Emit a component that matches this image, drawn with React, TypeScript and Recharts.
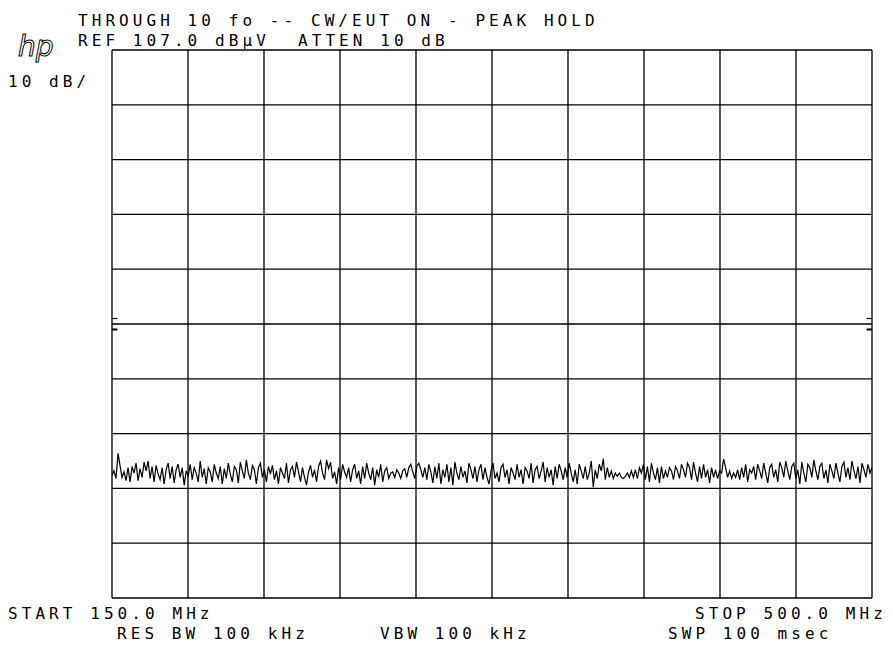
import React from "react";
import { LineChart, Line, XAxis, YAxis, ReferenceLine } from "recharts";

// sweep settings
const START_MHZ = 150;
const STOP_MHZ = 500;
const REF_DBUV = 107;
const DB_PER_DIV = 10;

const FREQ_TICKS = [150, 185, 220, 255, 290, 325, 360, 395, 430, 465, 500];
const LEVEL_TICKS = [7, 17, 27, 37, 47, 57, 67, 77, 87, 97, 107];

// peak-hold trace, dBµV, one value per sweep point
const TRACE = [
  29.4, 30.2, 28.8, 33.4, 31.2, 29.0, 30.0, 28.4, 30.8, 28.2, 31.0, 29.8, 31.6, 28.4, 30.6, 29.0, 31.8, 30.2, 32.0, 28.8,
  31.0, 28.2, 31.2, 29.6, 28.6, 30.8, 27.8, 30.4, 31.6, 28.8, 31.0, 28.0, 30.4, 31.4, 29.0, 30.8, 27.6, 30.2, 29.2, 31.4,
  28.6, 30.8, 29.8, 28.2, 32.0, 29.0, 30.6, 27.8, 30.8, 30.0, 28.2, 31.4, 29.8, 28.8, 31.0, 27.8, 30.6, 28.8, 31.6, 29.6,
  28.2, 31.0, 30.4, 28.0, 31.8, 30.2, 28.8, 32.2, 29.8, 28.6, 31.2, 30.4, 27.8, 30.8, 31.6, 29.0, 30.4, 28.2, 31.0, 29.6,
  31.2, 28.6, 30.2, 27.8, 30.8, 29.8, 28.8, 31.6, 28.0, 30.4, 31.0, 29.0, 31.8, 30.0, 28.2, 30.8, 29.0, 27.6, 30.0, 31.2,
  29.0, 30.4, 28.2, 31.0, 32.0, 29.8, 28.6, 32.2, 30.6, 31.8, 28.8, 30.0, 27.8, 30.8, 28.6, 31.4, 30.0, 29.0, 30.8, 28.2,
  30.4, 31.4, 28.8, 30.2, 27.8, 31.0, 28.8, 31.6, 29.8, 28.6, 30.8, 27.6, 30.4, 29.0, 31.4, 28.2, 30.2, 30.8, 28.8, 29.8,
  30.0, 29.0, 30.4, 29.8, 28.8, 30.2, 30.6, 29.0, 30.8, 31.4, 30.0, 28.8, 31.0, 31.6, 30.4, 29.0, 30.8, 28.6, 31.4, 30.0,
  28.0, 31.0, 28.8, 31.6, 27.8, 30.4, 29.0, 31.4, 28.2, 30.8, 27.6, 31.8, 29.8, 28.6, 31.0, 29.0, 30.2, 28.0, 31.6, 30.4,
  28.8, 31.0, 28.2, 30.4, 31.4, 28.6, 30.8, 29.0, 27.8, 30.2, 31.6, 28.8, 29.8, 28.2, 30.8, 31.4, 29.0, 30.4, 27.8, 30.8,
  29.8, 28.6, 31.4, 29.0, 30.4, 27.8, 30.8, 30.2, 28.8, 31.6, 28.0, 30.4, 31.0, 28.8, 30.2, 31.8, 28.2, 30.8, 29.0, 30.4,
  27.6, 31.0, 28.8, 31.4, 30.2, 28.6, 30.8, 29.0, 31.6, 29.8, 28.2, 30.4, 27.8, 31.4, 30.2, 28.8, 31.0, 28.6, 29.8, 32.0,
  27.2, 30.4, 28.8, 31.4, 30.2, 32.4, 28.6, 30.8, 29.0, 30.2, 28.8, 29.8, 29.2, 29.8, 29.0, 28.8, 29.2, 29.8, 29.0, 30.2,
  29.0, 30.4, 28.8, 30.8, 29.8, 31.4, 28.6, 31.0, 28.2, 31.6, 29.8, 28.6, 30.8, 28.0, 31.0, 28.8, 30.2, 29.0, 30.8, 30.2,
  28.6, 31.0, 30.2, 28.8, 31.4, 30.4, 29.0, 31.6, 30.8, 28.6, 31.8, 29.8, 28.2, 31.0, 28.8, 31.4, 29.0, 30.4, 28.0, 30.8,
  29.0, 30.4, 28.8, 30.2, 29.8, 32.4, 30.8, 29.0, 30.2, 28.8, 29.8, 29.0, 30.4, 28.6, 30.8, 29.0, 31.4, 28.2, 30.4, 29.8,
  31.0, 28.6, 31.4, 30.2, 28.8, 31.6, 29.8, 28.0, 30.8, 31.4, 29.0, 30.4, 28.2, 31.8, 30.8, 29.0, 32.0, 30.2, 28.6, 31.0,
  31.6, 28.8, 30.4, 27.8, 31.8, 29.8, 28.2, 31.4, 30.8, 29.0, 32.2, 30.2, 28.6, 31.0, 31.6, 28.8, 30.4, 28.0, 31.4, 30.2,
  28.8, 31.6, 29.8, 28.2, 31.0, 31.8, 29.0, 30.8, 28.6, 32.0, 30.2, 28.8, 31.0, 28.0, 31.6, 30.4, 29.0, 31.4, 29.8, 30.8,
];

const data = TRACE.map((v, i) => ({
  freq: START_MHZ + (i * (STOP_MHZ - START_MHZ)) / (TRACE.length - 1),
  level: v,
}));

const MONO = "'DejaVu Sans Mono', monospace";
const ADV = 13.7; // plotter character pitch

function Label({ x, y, children }: { x: number; y: number; children: string }) {
  return (
    <text x={x} y={y} fontFamily={MONO} fontSize={16} letterSpacing={ADV - 9.63} fill="#000" style={{ whiteSpace: "pre" }}>
      {children}
    </text>
  );
}

export default function App() {
  const refMark = REF_DBUV - 5 * DB_PER_DIV;
  return (
    <div style={{ position: "absolute", left: 0, top: 0, width: 893, height: 664, background: "#fff" }}>
      <LineChart
        width={893}
        height={664}
        data={data}
        margin={{ top: 50, right: 21, bottom: 66, left: 112 }}
      >
        <XAxis dataKey="freq" type="number" domain={[START_MHZ, STOP_MHZ]} hide />
        <YAxis type="number" domain={[REF_DBUV - 10 * DB_PER_DIV, REF_DBUV]} hide />
        {FREQ_TICKS.map((f) => (
          <ReferenceLine key={"v" + f} x={f} stroke="#000" strokeWidth={1.3} />
        ))}
        {LEVEL_TICKS.map((l) => (
          <ReferenceLine key={"h" + l} y={l} stroke="#000" strokeWidth={1.3} />
        ))}
        {/* reference level marks on the centre line */}
        <ReferenceLine segment={[{ x: 150, y: refMark + 1 }, { x: 152.5, y: refMark + 1 }]} stroke="#000" strokeWidth={1.2} />
        <ReferenceLine segment={[{ x: 150, y: refMark - 1 }, { x: 152.5, y: refMark - 1 }]} stroke="#000" strokeWidth={2} />
        <ReferenceLine segment={[{ x: 497.5, y: refMark + 1 }, { x: 500, y: refMark + 1 }]} stroke="#000" strokeWidth={1.2} />
        <ReferenceLine segment={[{ x: 497.5, y: refMark - 1 }, { x: 500, y: refMark - 1 }]} stroke="#000" strokeWidth={2} />
        <Line
          dataKey="level"
          type="linear"
          stroke="#000"
          strokeWidth={1.2}
          dot={false}
          isAnimationActive={false}
        />
      </LineChart>
      <svg
        width={893}
        height={664}
        style={{ position: "absolute", left: 0, top: 0, pointerEvents: "none" }}
      >
        <Label x={78} y={26}>THROUGH 10 fo -- CW/EUT ON - PEAK HOLD</Label>
        <Label x={78} y={46}>REF 107.0 dBµV</Label>
        <Label x={298} y={46}>ATTEN 10 dB</Label>
        <text x={18} y={56} fontFamily="'DejaVu Sans'" fontStyle="italic" fontSize={28} fill="none" stroke="#000" strokeWidth={1}>
          hp
        </text>
        <Label x={8} y={87}>10 dB/</Label>
        <Label x={8} y={619}>START 150.0 MHz</Label>
        <Label x={695} y={619}>STOP 500.0 MHz</Label>
        <Label x={117} y={639}>RES BW 100 kHz</Label>
        <Label x={380} y={639}>VBW 100 kHz</Label>
        <Label x={668} y={639}>SWP 100 msec</Label>
      </svg>
    </div>
  );
}
